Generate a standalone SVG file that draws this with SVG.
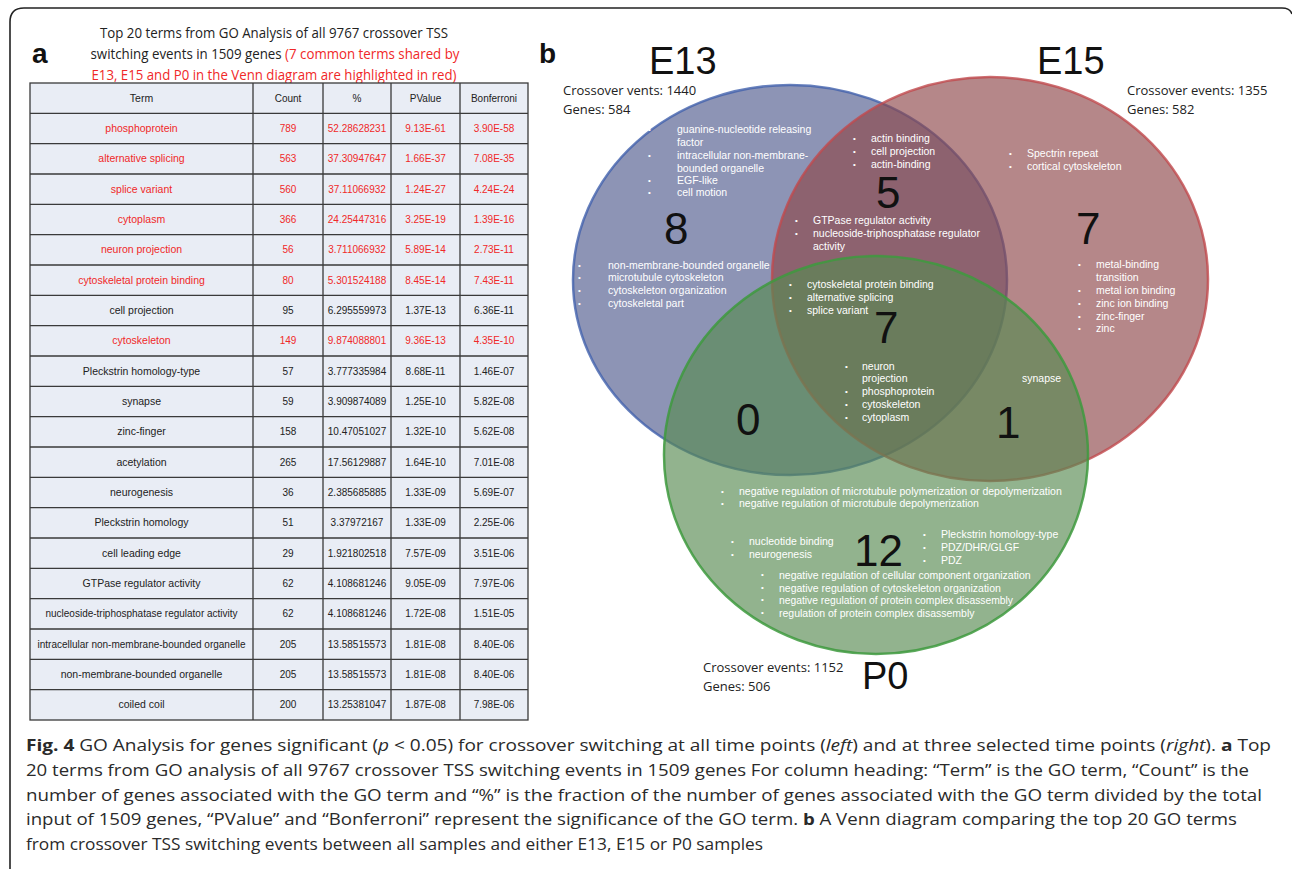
<svg xmlns="http://www.w3.org/2000/svg" width="1292" height="871" viewBox="0 0 1292 871">
<style>
.t{font-family:"Liberation Sans",Arial,sans-serif;font-size:10.5px;fill:#222;text-anchor:middle}
.n{font-size:10px}
.r{fill:#f02828}
.w{font-family:"Liberation Sans",Arial,sans-serif;font-size:10.5px;fill:#ffffff}
.bu{font-family:"Liberation Sans",Arial,sans-serif;font-size:8px;fill:#ffffff}
.big{font-family:"Liberation Sans",Arial,sans-serif;font-size:44px;fill:#111}
.lab{font-family:"Liberation Sans",Arial,sans-serif;font-size:38px;fill:#111}
.info{font-family:"Open Sans","Liberation Sans",sans-serif;font-size:13px;fill:#222}
.cap{font-family:"Open Sans","Liberation Sans",sans-serif;font-size:16px;fill:#2a2a2a}
.title{font-family:"Open Sans","Liberation Sans",sans-serif;font-size:14.5px;fill:#222;text-anchor:middle}
</style>
<rect width="1292" height="871" fill="#ffffff"/>
<path d="M10,869 L10,22 Q10,8 24,8 L1282,8 Q1290,8 1292,14" fill="none" stroke="#222" stroke-width="1.6"/>

<g id="panel-a">
<text x="32" y="63" font-family="Liberation Sans,Arial,sans-serif" font-weight="bold" font-size="28" fill="#111">a</text>
<text class="title" x="274" y="38" textLength="348" lengthAdjust="spacingAndGlyphs">Top 20 terms from GO Analysis of all 9767 crossover TSS</text>
<text class="title" x="275" y="59" textLength="369" lengthAdjust="spacingAndGlyphs">switching events in 1509 genes <tspan fill="#f02828">(7 common terms shared by</tspan></text>
<text class="title" x="274" y="80" textLength="365" lengthAdjust="spacingAndGlyphs" style="fill:#f02828">E13, E15 and P0 in the Venn diagram are highlighted in red)</text>

<g id="table">
<rect x="30" y="83" width="498" height="637" fill="#e9edf5"/>
<g stroke="#3a3a3a" stroke-width="1.3" fill="none">
<rect x="30" y="83" width="498" height="637"/>
<path d="M253,83V720M323,83V720M391,83V720M460,83V720"/>
<path d="M30,113.3H528M30,143.7H528M30,174H528M30,204.3H528M30,234.7H528M30,265H528M30,295.3H528M30,325.7H528M30,356H528M30,386.3H528M30,416.7H528M30,447H528M30,477.3H528M30,507.7H528M30,538H528M30,568.3H528M30,598.7H528M30,629H528M30,659.3H528M30,689.7H528"/>
</g>
<g id="header">
<text class="t" x="141.5" y="102">Term</text><text class="t n" x="288" y="102">Count</text><text class="t n" x="357" y="102">%</text><text class="t n" x="425.5" y="102">PValue</text><text class="t n" x="494" y="102">Bonferroni</text>
</g>
<g id="rows">
<text class="t r" x="141.5" y="132">phosphoprotein</text><text class="t n r" x="288" y="132">789</text><text class="t n r" x="357" y="132">52.28628231</text><text class="t n r" x="425.5" y="132">9.13E-61</text><text class="t n r" x="494" y="132">3.90E-58</text>
<text class="t r" x="141.5" y="162.3">alternative splicing</text><text class="t n r" x="288" y="162.3">563</text><text class="t n r" x="357" y="162.3">37.30947647</text><text class="t n r" x="425.5" y="162.3">1.66E-37</text><text class="t n r" x="494" y="162.3">7.08E-35</text>
<text class="t r" x="141.5" y="192.7">splice variant</text><text class="t n r" x="288" y="192.7">560</text><text class="t n r" x="357" y="192.7">37.11066932</text><text class="t n r" x="425.5" y="192.7">1.24E-27</text><text class="t n r" x="494" y="192.7">4.24E-24</text>
<text class="t r" x="141.5" y="223">cytoplasm</text><text class="t n r" x="288" y="223">366</text><text class="t n r" x="357" y="223">24.25447316</text><text class="t n r" x="425.5" y="223">3.25E-19</text><text class="t n r" x="494" y="223">1.39E-16</text>
<text class="t r" x="141.5" y="253.3">neuron projection</text><text class="t n r" x="288" y="253.3">56</text><text class="t n r" x="357" y="253.3">3.711066932</text><text class="t n r" x="425.5" y="253.3">5.89E-14</text><text class="t n r" x="494" y="253.3">2.73E-11</text>
<text class="t r" x="141.5" y="283.7">cytoskeletal protein binding</text><text class="t n r" x="288" y="283.7">80</text><text class="t n r" x="357" y="283.7">5.301524188</text><text class="t n r" x="425.5" y="283.7">8.45E-14</text><text class="t n r" x="494" y="283.7">7.43E-11</text>
<text class="t" x="141.5" y="314">cell projection</text><text class="t n" x="288" y="314">95</text><text class="t n" x="357" y="314">6.295559973</text><text class="t n" x="425.5" y="314">1.37E-13</text><text class="t n" x="494" y="314">6.36E-11</text>
<text class="t r" x="141.5" y="344.3">cytoskeleton</text><text class="t n r" x="288" y="344.3">149</text><text class="t n r" x="357" y="344.3">9.874088801</text><text class="t n r" x="425.5" y="344.3">9.36E-13</text><text class="t n r" x="494" y="344.3">4.35E-10</text>
<text class="t" x="141.5" y="374.7">Pleckstrin homology-type</text><text class="t n" x="288" y="374.7">57</text><text class="t n" x="357" y="374.7">3.777335984</text><text class="t n" x="425.5" y="374.7">8.68E-11</text><text class="t n" x="494" y="374.7">1.46E-07</text>
<text class="t" x="141.5" y="405">synapse</text><text class="t n" x="288" y="405">59</text><text class="t n" x="357" y="405">3.909874089</text><text class="t n" x="425.5" y="405">1.25E-10</text><text class="t n" x="494" y="405">5.82E-08</text>
<text class="t" x="141.5" y="435.3">zinc-finger</text><text class="t n" x="288" y="435.3">158</text><text class="t n" x="357" y="435.3">10.47051027</text><text class="t n" x="425.5" y="435.3">1.32E-10</text><text class="t n" x="494" y="435.3">5.62E-08</text>
<text class="t" x="141.5" y="465.7">acetylation</text><text class="t n" x="288" y="465.7">265</text><text class="t n" x="357" y="465.7">17.56129887</text><text class="t n" x="425.5" y="465.7">1.64E-10</text><text class="t n" x="494" y="465.7">7.01E-08</text>
<text class="t" x="141.5" y="496">neurogenesis</text><text class="t n" x="288" y="496">36</text><text class="t n" x="357" y="496">2.385685885</text><text class="t n" x="425.5" y="496">1.33E-09</text><text class="t n" x="494" y="496">5.69E-07</text>
<text class="t" x="141.5" y="526.3">Pleckstrin homology</text><text class="t n" x="288" y="526.3">51</text><text class="t n" x="357" y="526.3">3.37972167</text><text class="t n" x="425.5" y="526.3">1.33E-09</text><text class="t n" x="494" y="526.3">2.25E-06</text>
<text class="t" x="141.5" y="556.7">cell leading edge</text><text class="t n" x="288" y="556.7">29</text><text class="t n" x="357" y="556.7">1.921802518</text><text class="t n" x="425.5" y="556.7">7.57E-09</text><text class="t n" x="494" y="556.7">3.51E-06</text>
<text class="t" x="141.5" y="587">GTPase regulator activity</text><text class="t n" x="288" y="587">62</text><text class="t n" x="357" y="587">4.108681246</text><text class="t n" x="425.5" y="587">9.05E-09</text><text class="t n" x="494" y="587">7.97E-06</text>
<text class="t" x="141.5" y="617.3" textLength="192" lengthAdjust="spacingAndGlyphs">nucleoside-triphosphatase regulator activity</text><text class="t n" x="288" y="617.3">62</text><text class="t n" x="357" y="617.3">4.108681246</text><text class="t n" x="425.5" y="617.3">1.72E-08</text><text class="t n" x="494" y="617.3">1.51E-05</text>
<text class="t" x="141.5" y="647.7" textLength="208" lengthAdjust="spacingAndGlyphs">intracellular non-membrane-bounded organelle</text><text class="t n" x="288" y="647.7">205</text><text class="t n" x="357" y="647.7">13.58515573</text><text class="t n" x="425.5" y="647.7">1.81E-08</text><text class="t n" x="494" y="647.7">8.40E-06</text>
<text class="t" x="141.5" y="678">non-membrane-bounded organelle</text><text class="t n" x="288" y="678">205</text><text class="t n" x="357" y="678">13.58515573</text><text class="t n" x="425.5" y="678">1.81E-08</text><text class="t n" x="494" y="678">8.40E-06</text>
<text class="t" x="141.5" y="708.3">coiled coil</text><text class="t n" x="288" y="708.3">200</text><text class="t n" x="357" y="708.3">13.25381047</text><text class="t n" x="425.5" y="708.3">1.87E-08</text><text class="t n" x="494" y="708.3">7.98E-06</text>
</g>
</g>
</g>

<g id="panel-b">
<text x="539" y="63" font-family="Liberation Sans,Arial,sans-serif" font-weight="bold" font-size="28" fill="#111">b</text>
<g id="venn-sets">
<ellipse id="set-E13" cx="790" cy="280" rx="217" ry="195" fill="#525d8e" fill-opacity="0.66" stroke="#4262ad" stroke-width="2.5" stroke-opacity="0.8"/>
<ellipse id="set-E15" cx="990" cy="279" rx="218" ry="202" fill="#8e4649" fill-opacity="0.65" stroke="#c04a4e" stroke-width="2.5" stroke-opacity="0.8"/>
<ellipse id="set-P0" cx="876" cy="455" rx="212" ry="199" fill="#578a52" fill-opacity="0.65" stroke="#3e9a3e" stroke-width="2.5" stroke-opacity="0.85"/>
</g>

<g id="label-E13">
<text class="lab" x="649" y="74">E13</text>
<text class="info" x="563" y="95">Crossover vents: 1440</text>
<text class="info" x="563" y="114">Genes: 584</text>
</g>
<g id="label-E15">
<text class="lab" x="1037" y="74">E15</text>
<text class="info" x="1127" y="95">Crossover events: 1355</text>
<text class="info" x="1127" y="114">Genes: 582</text>
</g>
<g id="label-P0">
<text class="lab" x="862" y="689">P0</text>
<text class="info" x="703" y="672">Crossover events: 1152</text>
<text class="info" x="703" y="691">Genes: 506</text>
</g>

<g id="region-E13-only">
<text class="bu" x="648" y="132">•</text><text class="w" x="677" y="133">guanine-nucleotide releasing</text>
<text class="w" x="677" y="146">factor</text>
<text class="bu" x="648" y="158">•</text><text class="w" x="677" y="159">intracellular non-membrane-</text>
<text class="w" x="677" y="172">bounded organelle</text>
<text class="bu" x="648" y="183">•</text><text class="w" x="677" y="184">EGF-like</text>
<text class="bu" x="648" y="195">•</text><text class="w" x="677" y="196">cell motion</text>
<text class="big" x="664" y="244">8</text>
<text class="bu" x="578" y="268">•</text><text class="w" x="608" y="269">non-membrane-bounded organelle</text>
<text class="bu" x="578" y="280">•</text><text class="w" x="608" y="281">microtubule cytoskeleton</text>
<text class="bu" x="578" y="293">•</text><text class="w" x="608" y="294">cytoskeleton organization</text>
<text class="bu" x="578" y="306">•</text><text class="w" x="608" y="307">cytoskeletal part</text>
</g>

<g id="region-E13-E15">
<text class="bu" x="853" y="141">•</text><text class="w" x="871" y="142">actin binding</text>
<text class="bu" x="853" y="154">•</text><text class="w" x="871" y="155">cell projection</text>
<text class="bu" x="853" y="167">•</text><text class="w" x="871" y="168">actin-binding</text>
<text class="big" x="876" y="208">5</text>
<text class="bu" x="795" y="223">•</text><text class="w" x="813" y="224">GTPase regulator activity</text>
<text class="bu" x="795" y="236">•</text><text class="w" x="813" y="237">nucleoside-triphosphatase regulator</text>
<text class="w" x="813" y="250">activity</text>
</g>

<g id="region-E15-only">
<text class="bu" x="1009" y="156">•</text><text class="w" x="1027" y="157">Spectrin repeat</text>
<text class="bu" x="1009" y="169">•</text><text class="w" x="1027" y="170">cortical cytoskeleton</text>
<text class="big" x="1076" y="244">7</text>
<text class="bu" x="1078" y="267">•</text><text class="w" x="1096" y="268">metal-binding</text>
<text class="w" x="1096" y="281">transition</text>
<text class="bu" x="1078" y="293">•</text><text class="w" x="1096" y="294">metal ion binding</text>
<text class="bu" x="1078" y="306">•</text><text class="w" x="1096" y="307">zinc ion binding</text>
<text class="bu" x="1078" y="319">•</text><text class="w" x="1096" y="320">zinc-finger</text>
<text class="bu" x="1078" y="331">•</text><text class="w" x="1096" y="332">zinc</text>
</g>

<g id="region-all">
<text class="bu" x="789" y="287">•</text><text class="w" x="807" y="288">cytoskeletal protein binding</text>
<text class="bu" x="789" y="300">•</text><text class="w" x="807" y="301">alternative splicing</text>
<text class="bu" x="789" y="313">•</text><text class="w" x="807" y="314">splice variant</text>
<text class="big" x="874" y="343">7</text>
<text class="bu" x="845" y="369">•</text><text class="w" x="862" y="370">neuron</text>
<text class="w" x="862" y="382">projection</text>
<text class="bu" x="845" y="394">•</text><text class="w" x="862" y="395">phosphoprotein</text>
<text class="bu" x="845" y="407">•</text><text class="w" x="862" y="408">cytoskeleton</text>
<text class="bu" x="845" y="420">•</text><text class="w" x="862" y="421">cytoplasm</text>
</g>

<g id="region-E13-P0">
<text class="big" x="736" y="435">0</text>
</g>

<g id="region-E15-P0">
<text class="w" x="1022" y="382">synapse</text>
<text class="big" x="996" y="438">1</text>
</g>

<g id="region-P0-only">
<text class="bu" x="721" y="494">•</text><text class="w" x="739" y="495">negative regulation of microtubule polymerization or depolymerization</text>
<text class="bu" x="721" y="506">•</text><text class="w" x="739" y="507">negative regulation of microtubule depolymerization</text>
<text class="bu" x="731" y="544">•</text><text class="w" x="749" y="545">nucleotide binding</text>
<text class="bu" x="731" y="557">•</text><text class="w" x="749" y="558">neurogenesis</text>
<text class="big" x="854" y="566">12</text>
<text class="bu" x="923" y="537">•</text><text class="w" x="941" y="538">Pleckstrin homology-type</text>
<text class="bu" x="923" y="550">•</text><text class="w" x="941" y="551">PDZ/DHR/GLGF</text>
<text class="bu" x="923" y="563">•</text><text class="w" x="941" y="564">PDZ</text>
<text class="bu" x="761" y="577">•</text><text class="w" x="779" y="579">negative regulation of cellular component organization</text>
<text class="bu" x="761" y="590">•</text><text class="w" x="779" y="592">negative regulation of cytoskeleton organization</text>
<text class="bu" x="761" y="602">•</text><text class="w" x="779" y="604" textLength="234" lengthAdjust="spacingAndGlyphs">negative regulation of protein complex disassembly</text>
<text class="bu" x="761" y="615">•</text><text class="w" x="779" y="617">regulation of protein complex disassembly</text>
</g>
</g>

<g id="caption">
<text class="cap" x="26" y="751" textLength="1245" lengthAdjust="spacingAndGlyphs"><tspan font-weight="bold">Fig. 4</tspan> GO Analysis for genes significant (<tspan font-style="italic">p</tspan> &lt; 0.05) for crossover switching at all time points (<tspan font-style="italic">left</tspan>) and at three selected time points (<tspan font-style="italic">right</tspan>). <tspan font-weight="bold">a</tspan> Top</text>
<text class="cap" x="26" y="776" textLength="1223" lengthAdjust="spacingAndGlyphs">20 terms from GO analysis of all 9767 crossover TSS switching events in 1509 genes For column heading: “Term” is the GO term, “Count” is the</text>
<text class="cap" x="26" y="801" textLength="1236" lengthAdjust="spacingAndGlyphs">number of genes associated with the GO term and “%” is the fraction of the number of genes associated with the GO term divided by the total</text>
<text class="cap" x="26" y="825" textLength="1211" lengthAdjust="spacingAndGlyphs">input of 1509 genes, “PValue” and “Bonferroni” represent the significance of the GO term. <tspan font-weight="bold">b</tspan> A Venn diagram comparing the top 20 GO terms</text>
<text class="cap" x="26" y="850" textLength="737" lengthAdjust="spacingAndGlyphs">from crossover TSS switching events between all samples and either E13, E15 or P0 samples</text>
</g>
</svg>
